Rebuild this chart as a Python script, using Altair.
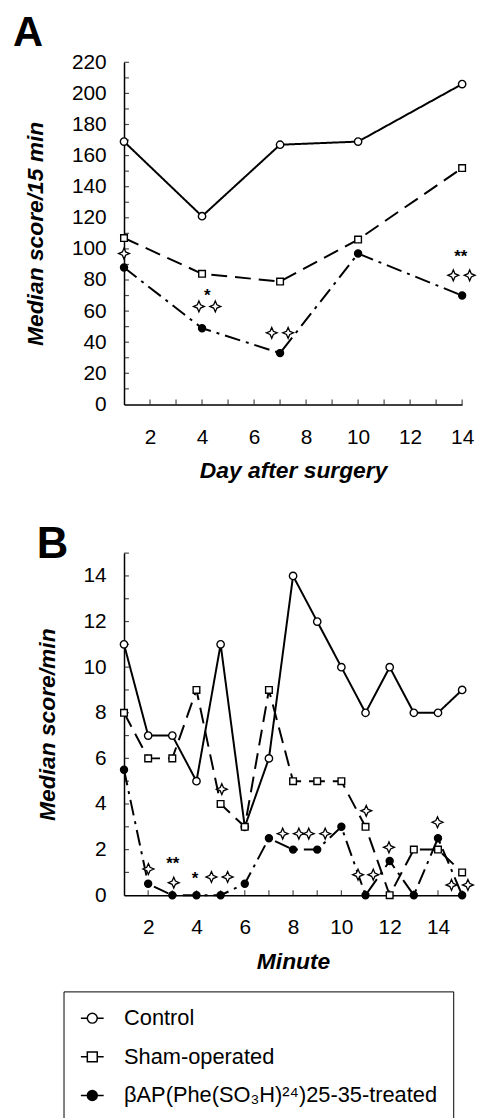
import altair as alt
import pandas as pd

FONT = "Liberation Sans"

# ---------------- Panel A data ----------------
days_A = [1, 4, 7, 10, 14]
control_A = [169, 121, 167, 169, 206]
sham_A = [107, 84, 79, 106, 152]
treated_A = [88, 49, 33, 97, 70]

starsA_x = [1, 3.88, 4.51, 6.68, 7.31, 13.66, 14.29]
starsA_y = [97, 63, 63, 46, 46, 83, 83]
astA_text = ["*", "**"]
astA_x = [4.2, 13.95]
astA_y = [72, 97]

xticksA = list(range(2, 15))
yticksA = list(range(10, 221, 10))
xlabelsA = [2, 4, 6, 8, 10, 12, 14]
ylabelsA = list(range(0, 221, 20))

# ---------------- Panel B data ----------------
minutes_B = list(range(1, 16))
control_B = [11, 7, 7, 5, 11, 3, 6, 14, 12, 10, 8, 10, 8, 8, 9]
sham_B = [8, 6, 6, 9, 4, 3, 9, 5, 5, 5, 3, 0, 2, 2, 1]
treated_B = [5.5, 0.5, 0, 0, 0, 0.5, 2.5, 2, 2, 3, 0, 1.5, 0, 2.5, 0]

starsB_x = [2.01, 3.06, 4.62, 5.29, 5.05, 7.57, 8.24, 8.65, 9.33, 11.03, 10.69, 11.32, 11.97, 13.98, 14.56, 15.24]
starsB_y = [1.15, 0.55, 0.8, 0.8, 4.65, 2.7, 2.7, 2.7, 2.7, 3.7, 0.9, 0.9, 2.1, 3.2, 0.45, 0.45]
astB_text = ["**", "*"]
astB_x = [3.02, 3.94]
astB_y = [1.55, 0.9]

xticksB = list(range(2, 16))
yticksB = list(range(1, 16))
xlabelsB = [2, 4, 6, 8, 10, 12, 14]
ylabelsB = list(range(0, 15, 2))

groups = ["Control", "Sham-operated", "βAP(Phe(SO₃H)²⁴)25-35-treated"]

STAR = "M0,-1L0.3,-0.3L1,0L0.3,0.3L0,1L-0.3,0.3L-1,0L-0.3,-0.3Z"
LEG_CIRCLE = "M-2.3,0L-1,0M1,0L2.3,0M1,0A1,1,0,1,1,-1,0A1,1,0,1,1,1,0Z"
LEG_SQUARE = "M-2.3,0L-1,0M1,0L2.3,0M-1,-1L1,-1L1,1L-1,1Z"

styles = [
    dict(dash=[1, 0], shape="circle", fill="white", size=55),
    dict(dash=[16, 8], shape="square", fill="white", size=45),
    dict(dash=[16, 6, 3, 6], shape="circle", fill="black", size=50),
]

W, H = 341, 345


def panel(xs, series, xdom, ydom, xticks, yticks, xlabels, ylabels, xtitle, ytitle,
          sx, sy, at, ax, ay, letter, letter_size, letter_dx, letter_dy, legend=False):
    xscale = alt.Scale(domain=xdom, nice=False, zero=False)
    yscale = alt.Scale(domain=ydom, nice=False, zero=False)
    xaxis = alt.Axis(values=xlabels, title=xtitle, ticks=False, tickSize=0, grid=False,
                     labelFlush=False, labelPadding=22, titlePadding=13,
                     domainColor="black", domainWidth=1.5)
    yaxis = alt.Axis(values=ylabels, title=ytitle, ticks=False, tickSize=0, grid=False,
                     labelPadding=18, titlePadding=24,
                     domainColor="black", domainWidth=1.5)

    def X(field=None, datum=None):
        if datum is not None:
            return alt.X(datum=datum, type="quantitative", scale=xscale, axis=xaxis)
        return alt.X(field, type="quantitative", scale=xscale, axis=xaxis)

    def Y(field=None, datum=None):
        if datum is not None:
            return alt.Y(datum=datum, type="quantitative", scale=yscale, axis=yaxis)
        return alt.Y(field, type="quantitative", scale=yscale, axis=yaxis)

    layers = []
    # inward axis ticks
    tx = pd.DataFrame({"v": xticks})
    layers.append(alt.Chart(tx).mark_tick(orient="vertical", size=5, thickness=1.2,
                                          color="black", yOffset=-2.5)
                  .encode(x=X("v"), y=Y(datum=ydom[0])))
    ty = pd.DataFrame({"v": yticks})
    layers.append(alt.Chart(ty).mark_tick(orient="horizontal", size=5, thickness=1.2,
                                          color="black", xOffset=2.5)
                  .encode(x=X(datum=xdom[0]), y=Y("v")))
    # series lines
    for vals, st in zip(series, styles):
        df = pd.DataFrame({"x": xs, "y": vals})
        layers.append(alt.Chart(df).mark_line(color="black", strokeWidth=2,
                                               strokeDash=st["dash"])
                      .encode(x=X("x"), y=Y("y")))
    for vals, st in zip(series, styles):
        df = pd.DataFrame({"x": xs, "y": vals})
        layers.append(alt.Chart(df).mark_point(shape=st["shape"], filled=True,
                                                fill=st["fill"], stroke="black",
                                                strokeWidth=1.4, size=st["size"], opacity=1)
                      .encode(x=X("x"), y=Y("y")))
    # significance stars
    sdf = pd.DataFrame({"x": sx, "y": sy})
    layers.append(alt.Chart(sdf).mark_point(shape=STAR, filled=True, fill="white",
                                             stroke="black", strokeWidth=1.3,
                                             size=121, opacity=1)
                  .encode(x=X("x"), y=Y("y")))
    adf = pd.DataFrame({"t": at, "x": ax, "y": ay})
    layers.append(alt.Chart(adf).mark_text(font=FONT, fontSize=17, fontWeight="bold",
                                            baseline="alphabetic", dy=9, color="black")
                  .encode(x=X("x"), y=Y("y"), text="t:N"))
    # panel letter, anchored at the top-left corner of the plot
    ldf0 = pd.DataFrame({"t": [letter]})
    layers.append(alt.Chart(ldf0).mark_text(font=FONT, fontSize=letter_size,
                                             fontWeight="bold",
                                             align="left", baseline="alphabetic",
                                             dx=letter_dx, dy=letter_dy, color="black")
                  .encode(x=X(datum=xdom[0]), y=Y(datum=ydom[1]), text="t:N"))
    if legend:
        leg = alt.Legend(title=None, orient="none", legendX=-61, legendY=937,
                         direction="vertical", strokeColor="black", padding=16,
                         labelFont=FONT, labelFontSize=22, labelColor="black",
                         labelLimit=0, symbolSize=100,
                         symbolStrokeWidth=1.5, symbolOpacity=1, rowPadding=17,
                         labelOffset=21, symbolOffset=2)
        ldf = pd.DataFrame({"g": groups})
        layers.append(alt.Chart(ldf).mark_point(opacity=0, filled=False, stroke="black",
                                                strokeWidth=1.5)
                      .encode(shape=alt.Shape("g:N", scale=alt.Scale(domain=groups,
                              range=[LEG_CIRCLE, LEG_SQUARE, LEG_CIRCLE]), legend=leg),
                              fill=alt.Fill("g:N", scale=alt.Scale(domain=groups,
                              range=["white", "white", "black"]), legend=leg)))
    return alt.layer(*layers).properties(width=W, height=H)


pA = panel(days_A, [control_A, sham_A, treated_A], [1, 14], [0, 220],
           xticksA, yticksA, xlabelsA, ylabelsA, "Day after surgery", "Median score/15 min",
           starsA_x, starsA_y, astA_text, astA_x, astA_y, "A", 42, -112, -16)
pB = panel(minutes_B, [control_B, sham_B, treated_B], [1, 15], [0, 15],
           xticksB, yticksB, xlabelsB, ylabelsB, "Minute", "Median score/min",
           starsB_x, starsB_y, astB_text, astB_x, astB_y, "B", 44, -88, 5, legend=True)

chart = alt.vconcat(pA, pB, spacing=41).properties(
    padding={"left": 5, "top": 0, "right": 0, "bottom": 0}
).configure_view(
    stroke=None
).configure_axis(
    labelFont=FONT, labelFontSize=21, labelColor="black",
    titleFont=FONT, titleFontSize=23, titleFontWeight="bold", titleFontStyle="italic",
    titleColor="black"
)

chart.save("out.html", embed_options={"renderer": "svg", "actions": False})
